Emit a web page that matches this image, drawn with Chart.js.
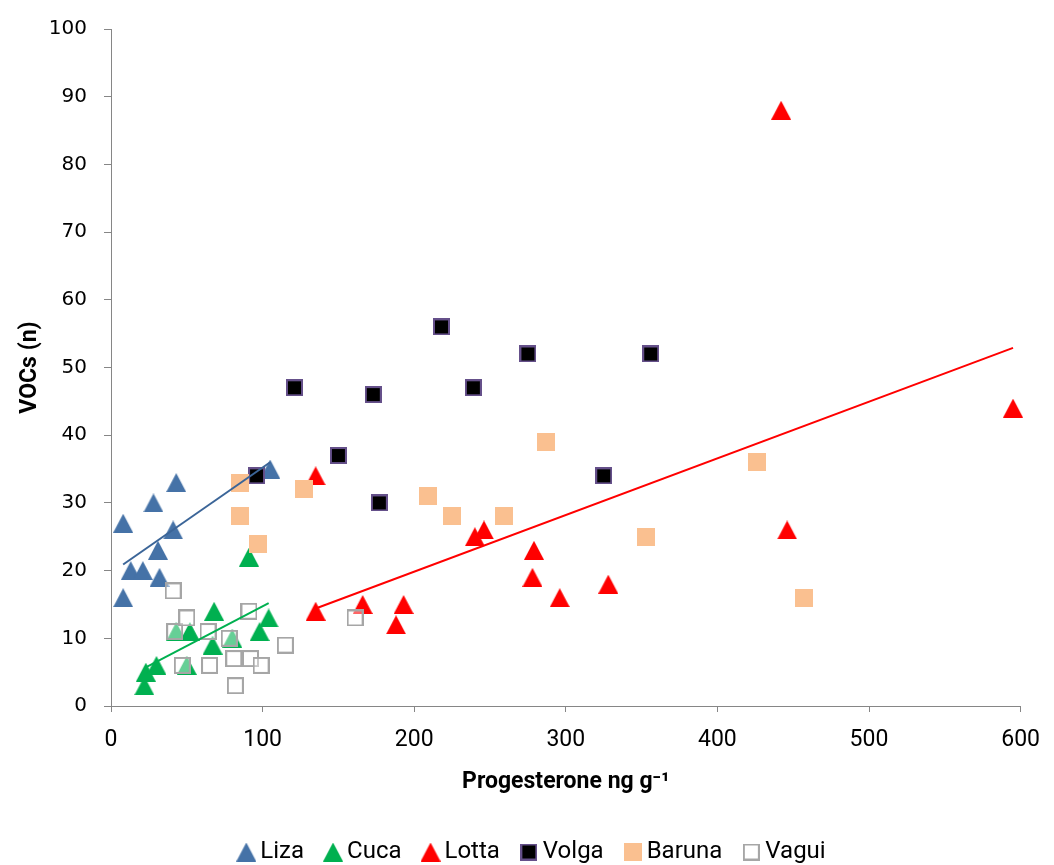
<!DOCTYPE html>
<html><head><meta charset="utf-8">
<script src="https://cdn.jsdelivr.net/npm/chart.js@4/dist/chart.umd.min.js"></script>
<style>html,body{margin:0;padding:0;background:#fff;overflow:hidden}#wrap{width:1054px;height:874px;position:relative}</style>
</head><body><div id="wrap"><canvas id="c" width="1054" height="874"></canvas></div>
<script>
// ---- data ----
const lizaX = [8, 8, 13, 21, 28, 31, 32, 41, 43, 105];
const lizaY = [27, 16, 20, 20, 30, 23, 19, 26, 33, 35];
const cucaX = [22, 23, 30, 43, 50, 52, 67, 68, 80, 91, 98, 104];
const cucaY = [3, 5, 6, 11, 6, 11, 9, 14, 10, 22, 11, 13];
const lottaX = [135, 135, 166, 188, 193, 240, 246, 278, 279, 296, 328, 442, 446, 595];
const lottaY = [34, 14, 15, 12, 15, 25, 26, 19, 23, 16, 18, 88, 26, 44];
const volgaX = [96, 121, 150, 173, 177, 218, 239, 275, 325, 356];
const volgaY = [34, 47, 37, 46, 30, 56, 47, 52, 34, 52];
const barunaX = [85, 85, 97, 127, 209, 225, 259, 287, 353, 426, 457];
const barunaY = [33, 28, 24, 32, 31, 28, 28, 39, 25, 36, 16];
const vaguiX = [41, 42, 47, 50, 64, 65, 78, 81, 82, 91, 92, 99, 115, 161];
const vaguiY = [17, 11, 6, 13, 11, 6, 10, 7, 3, 14, 7, 6, 9, 13];
// trend lines (end points)
const lizaTrendX = [8, 105], lizaTrendY = [20.9, 36.0];
const cucaTrendX = [22, 104], cucaTrendY = [5.6, 15.2];
const lottaTrendX = [135, 595], lottaTrendY = [14.4, 52.9];
// axis ticks
const xTicks = [0, 100, 200, 300, 400, 500, 600];
const yTicks = [0, 10, 20, 30, 40, 50, 60, 70, 80, 90, 100];
const seriesNames = ['Liza', 'Cuca', 'Lotta', 'Volga', 'Baruna', 'Vagui'];

function pts(xs, ys) { return xs.map((x, i) => ({x: x, y: ys[i]})); }

function tri(color) {
  const c = document.createElement('canvas'); c.width = 20; c.height = 19;
  const g = c.getContext('2d'); g.fillStyle = color;
  g.beginPath(); g.moveTo(10, 0); g.lineTo(20, 19); g.lineTo(0, 19); g.closePath(); g.fill();
  return c;
}
function sq(size, fill, stroke, lw) {
  const c = document.createElement('canvas'); c.width = size; c.height = size;
  const g = c.getContext('2d');
  if (stroke) {
    g.fillStyle = fill; g.fillRect(lw / 2, lw / 2, size - lw, size - lw);
    g.strokeStyle = stroke; g.lineWidth = lw; g.strokeRect(lw / 2, lw / 2, size - lw, size - lw);
  } else { g.fillStyle = fill; g.fillRect(0, 0, size, size); }
  return c;
}
const mLiza = tri('#4572a7'), mCuca = tri('#00b050'), mLotta = tri('#ff0000');
const mVolga = sq(17, '#000000', '#65508a', 2);
const mBaruna = sq(18, '#fac090', null, 0);
const mVagui = sq(17, 'rgba(255,255,255,0.4)', '#a6a6a6', 2);

function scat(label, xs, ys, img, order) {
  return {type: 'scatter', label: label, data: pts(xs, ys), pointStyle: img, pointRadius: 10,
    pointHoverRadius: 10, showLine: false, order: order, clip: false,
    backgroundColor: 'transparent', borderColor: 'transparent'};
}
function trend(xs, ys, color) {
  return {type: 'scatter', label: '', isTrend: true, data: pts(xs, ys), showLine: true, pointRadius: 0,
    borderColor: color, borderWidth: 2, backgroundColor: color, order: 0};
}

const TF = 'Roboto';
const axisCol = '#868686';

new Chart(document.getElementById('c'), {
  data: {
    datasets: [
      scat(seriesNames[0], lizaX, lizaY, mLiza, 6),
      scat(seriesNames[1], cucaX, cucaY, mCuca, 5),
      scat(seriesNames[2], lottaX, lottaY, mLotta, 4),
      scat(seriesNames[3], volgaX, volgaY, mVolga, 3),
      scat(seriesNames[4], barunaX, barunaY, mBaruna, 2),
      scat(seriesNames[5], vaguiX, vaguiY, mVagui, 1),
      trend(lizaTrendX, lizaTrendY, '#3b6598'),
      trend(cucaTrendX, cucaTrendY, '#00b050'),
      trend(lottaTrendX, lottaTrendY, '#ff0000')
    ]
  },
  options: {
    responsive: false, animation: false, devicePixelRatio: 1,
    layout: {autoPadding: false, padding: {left: 38, right: 22, top: 24, bottom: 0}},
    plugins: {
      tooltip: {enabled: false},
      legend: {
        position: 'bottom', align: 'center',
        labels: {
          usePointStyle: true, pointStyleWidth: 4, padding: 27, color: '#000',
          font: {family: TF, size: 24},
          filter: (item, data) => !data.datasets[item.datasetIndex].isTrend,
          sort: (a, b) => a.datasetIndex - b.datasetIndex
        }
      }
    },
    scales: {
      x: {
        type: 'linear', position: 'bottom', min: 0, max: 600,
        afterBuildTicks: s => { s.ticks = xTicks.map(v => ({value: v})); },
        afterFit: s => { s.height = 107; },
        ticks: {color: '#000', font: {family: TF, size: 23}, padding: 14, maxRotation: 0, autoSkip: false},
        grid: {drawOnChartArea: false, drawTicks: true, tickLength: 6, color: axisCol},
        border: {color: axisCol, width: 1},
        title: {display: true, text: 'Progesterone ng g\u207B\u00B9', color: '#000',
          font: {family: TF, size: 23, weight: 'bold'}, padding: {top: 0, bottom: 17}}
      },
      y: {
        type: 'linear', position: 'left', min: 0, max: 100,
        afterBuildTicks: s => { s.ticks = yTicks.map(v => ({value: v})); },
        afterFit: s => { s.width = 73; },
        ticks: {color: '#000', font: {family: 'DejaVu Sans', size: 20}, padding: 17, autoSkip: false},
        grid: {drawOnChartArea: false, drawTicks: true, tickLength: 7, color: axisCol},
        border: {color: axisCol, width: 1},
        title: {display: true, text: 'VOCs (n)', color: '#000',
          font: {family: TF, size: 23, weight: 'bold'}, padding: {top: -22, bottom: 0}}
      }
    }
  }
});
</script>
</body></html>
